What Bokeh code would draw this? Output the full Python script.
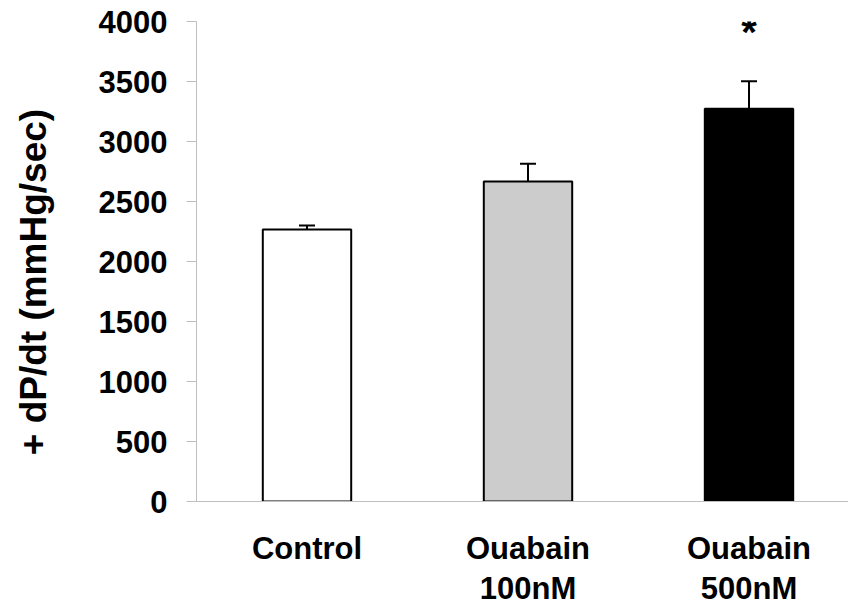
from bokeh.plotting import figure
from bokeh.models import Range1d, FixedTicker, Whisker, TeeHead, ColumnDataSource
from bokeh.core.properties import value
from bokeh.embed import file_html
from bokeh.resources import INLINE

categories = ["Control", "Ouabain\n100nM", "Ouabain\n500nM"]
means = [2267, 2667, 3272]
sems = [33, 147, 230]
fills = ["#ffffff", "#cccccc", "#000000"]
significance = ["", "", "*"]
y_ticks = [0, 500, 1000, 1500, 2000, 2500, 3000, 3500, 4000]
y_title = "+ dP/dt (mmHg/sec)"

FONT = "Liberation Sans"
W, H = 848, 608
LEFT = 196

xs = [i + 0.5 for i in range(len(categories))]
src = ColumnDataSource(dict(
    x=xs, top=means, fill=fills,
    upper=[m + s for m, s in zip(means, sems)],
    sig=significance,
))

p = figure(width=W, height=H, output_backend="svg", toolbar_location=None,
           x_range=Range1d(0, (W - LEFT) / 221.0), y_range=Range1d(0, 4000),
           min_border_left=LEFT, min_border_right=0, min_border_top=21,
           min_border_bottom=107)
p.outline_line_color = None
p.grid.visible = False
p.background_fill_color = "white"
p.border_fill_color = "white"

p.vbar(x="x", top="top", bottom=0, width=0.4, source=src,
       fill_color="fill", line_color="#000000", line_width=2)

w = Whisker(base="x", lower="top", upper="upper", source=src,
            line_color="black", line_width=2, lower_head=None,
            upper_head=TeeHead(size=16, line_color="black", line_width=2))
p.add_layout(w)

p.text(x="x", y="upper", text="sig", source=src, text_font=value(FONT),
       text_font_style="bold", text_font_size="40px", text_align="center",
       text_baseline="alphabetic", y_offset=-49, text_color="black")

# y axis
ya = p.yaxis[0]
ya.ticker = FixedTicker(ticks=y_ticks)
ya.axis_line_color = "#bfbfbf"
ya.major_tick_line_color = "#bfbfbf"
ya.major_tick_in = 0
ya.major_tick_out = 10
ya.minor_tick_line_color = None
ya.major_label_text_font = FONT
ya.major_label_text_font_style = "bold"
ya.major_label_text_font_size = "31px"
ya.major_label_text_color = "black"
ya.major_label_standoff = 19
ya.axis_label = y_title + "\u00a0" * 4
ya.axis_label_text_font = FONT
ya.axis_label_text_font_style = "bold"
ya.axis_label_text_font_size = "37px"
ya.axis_label_text_color = "black"
ya.axis_label_standoff = 42

# x axis
xa = p.xaxis[0]
xa.ticker = FixedTicker(ticks=xs)
xa.major_label_overrides = {x: c for x, c in zip(xs, categories)}
xa.axis_line_color = "#bfbfbf"
xa.major_tick_line_color = None
xa.minor_tick_line_color = None
xa.major_tick_in = 0
xa.major_tick_out = 0
xa.major_label_text_font = FONT
xa.major_label_text_font_style = "bold"
xa.major_label_text_font_size = "31px"
xa.major_label_text_color = "black"
xa.major_label_text_line_height = 1.15
xa.major_label_standoff = 29

open("out.html", "w").write(file_html(p, INLINE))
